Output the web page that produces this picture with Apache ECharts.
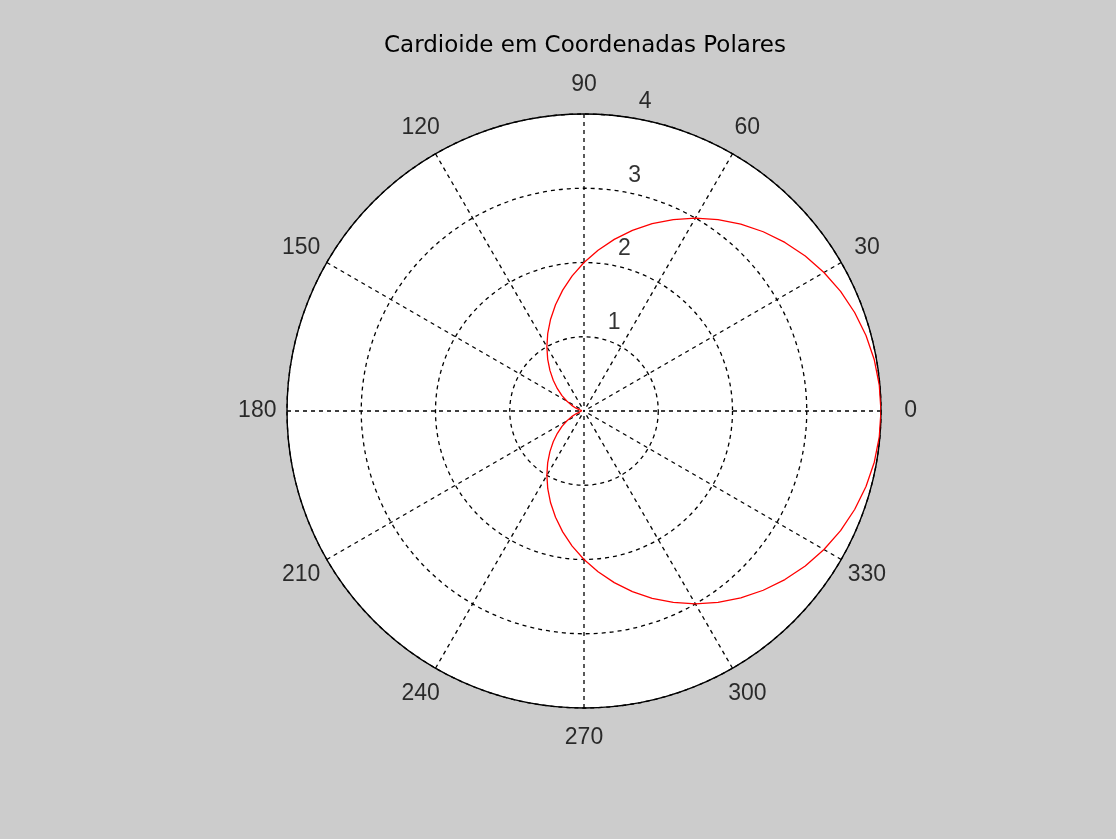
<!DOCTYPE html>
<html>
<head>
<meta charset="utf-8">
<title>Cardioide em Coordenadas Polares</title>
<script src="https://cdn.jsdelivr.net/npm/echarts@6/dist/echarts.min.js"></script>
<style>
  html, body { margin: 0; padding: 0; background: #cccccc; }
  #chart { width: 1116px; height: 839px; }
</style>
</head>
<body>
<div id="chart"></div>
<script>
// Cardioid samples: angle in degrees, radius r
const thetaDeg = [
  0, 5, 10, 15, 20, 25, 30, 35, 40, 45, 50, 55, 60, 65, 70, 75, 80, 85,
  90, 95, 100, 105, 110, 115, 120, 125, 130, 135, 140, 145, 150, 155, 160, 165, 170, 175,
  180, 185, 190, 195, 200, 205, 210, 215, 220, 225, 230, 235, 240, 245, 250, 255, 260, 265,
  270, 275, 280, 285, 290, 295, 300, 305, 310, 315, 320, 325, 330, 335, 340, 345, 350, 355, 360
];
const radius = [
  4.000, 3.992, 3.970, 3.932, 3.879, 3.813, 3.732, 3.638, 3.532, 3.414, 3.286, 3.147, 3.000, 2.845, 2.684, 2.518, 2.347, 2.174,
  2.000, 1.826, 1.653, 1.482, 1.316, 1.155, 1.000, 0.853, 0.714, 0.586, 0.468, 0.362, 0.268, 0.187, 0.121, 0.068, 0.030, 0.008,
  0.000, 0.008, 0.030, 0.068, 0.121, 0.187, 0.268, 0.362, 0.468, 0.586, 0.714, 0.853, 1.000, 1.155, 1.316, 1.482, 1.653, 1.826,
  2.000, 2.174, 2.347, 2.518, 2.684, 2.845, 3.000, 3.147, 3.286, 3.414, 3.532, 3.638, 3.732, 3.813, 3.879, 3.932, 3.970, 3.992, 4.000
];

// Tick labels
const angleTicks = [0, 30, 60, 90, 120, 150, 180, 210, 240, 270, 300, 330];
const radialTicks = [1, 2, 3, 4];

const titleText = 'Cardioide em Coordenadas Polares';
const RMAX = 4;
const LABEL_FONT = '"Liberation Sans", Arial, sans-serif';
const TITLE_FONT = '"DejaVu Sans", sans-serif';
const CENTER = [584, 411];
const R_PX = 297;

const chart = echarts.init(document.getElementById('chart'), null, { renderer: 'canvas' });

const dashed = { color: '#000000', width: 1.3, type: [4, 4] };

chart.setOption({
  backgroundColor: '#cccccc',
  animation: false,
  title: {
    text: titleText,
    left: 580,
    textAlign: 'center',
    top: 30,
    textStyle: { fontFamily: TITLE_FONT, fontSize: 23, fontWeight: 'normal', color: '#000000' }
  },
  polar: [
    { center: CENTER, radius: [0, R_PX], z: 0 },   // white plot disk
    { center: CENTER, radius: [0, R_PX], z: 2 }    // grid, frame and data
  ],
  angleAxis: [
    {
      polarIndex: 0,
      type: 'value', min: 0, max: 360, interval: 30,
      startAngle: 0, clockwise: false,
      axisLine: { show: false }, axisTick: { show: false }, axisLabel: { show: false },
      splitLine: { show: false },
      splitArea: { show: true, areaStyle: { color: ['#ffffff'] } },
      z: 0
    },
    {
      polarIndex: 1,
      type: 'value', min: 0, max: 360, interval: 30,
      startAngle: 0, clockwise: false,
      axisLine: { show: true, lineStyle: { color: '#000000', width: 1.4 } },
      axisTick: { show: false },
      axisLabel: { show: false },
      splitLine: { show: true, lineStyle: dashed },
      splitArea: { show: false },
      z: 3
    }
  ],
  radiusAxis: [
    {
      polarIndex: 0,
      type: 'value', min: 0, max: RMAX, interval: 1,
      axisLine: { show: false }, axisTick: { show: false }, axisLabel: { show: false },
      splitLine: { show: false }, z: 0
    },
    {
      polarIndex: 1,
      type: 'value', min: 0, max: RMAX, interval: 1,
      axisLine: { show: false }, axisTick: { show: false }, axisLabel: { show: false },
      splitLine: { show: true, lineStyle: dashed }, z: 3
    }
  ],
  series: [
    {
      // the cardioid curve
      type: 'line',
      polarIndex: 1,
      coordinateSystem: 'polar',
      data: thetaDeg.map((t, i) => [radius[i], t]),
      showSymbol: false,
      symbol: 'none',
      clip: false,
      lineStyle: { color: '#ff0000', width: 1.3 },
      z: 5
    },
    {
      // angle labels, centred at 1.1 x the outer radius
      type: 'scatter',
      polarIndex: 1,
      coordinateSystem: 'polar',
      data: angleTicks.map(a => [RMAX * 1.1, a]),
      symbolSize: 1,
      clip: false,
      itemStyle: { color: 'rgba(0,0,0,0)' },
      silent: true,
      label: {
        show: true,
        position: 'inside',
        align: 'center',
        verticalAlign: 'middle',
        formatter: p => String(angleTicks[p.dataIndex]),
        fontFamily: LABEL_FONT,
        fontSize: 23,
        color: '#000000'
      },
      z: 6
    },
    {
      // radial labels along the 82 degree direction
      type: 'scatter',
      polarIndex: 1,
      coordinateSystem: 'polar',
      data: radialTicks.map(r => [r + 0.05, 82]),
      symbolSize: 1,
      clip: false,
      itemStyle: { color: 'rgba(0,0,0,0)' },
      silent: true,
      label: {
        show: true,
        position: 'inside',
        align: 'left',
        verticalAlign: 'bottom',
        formatter: p => '  ' + radialTicks[p.dataIndex],
        fontFamily: LABEL_FONT,
        fontSize: 23,
        color: '#000000'
      },
      z: 6
    }
  ]
});
</script>
</body>
</html>
